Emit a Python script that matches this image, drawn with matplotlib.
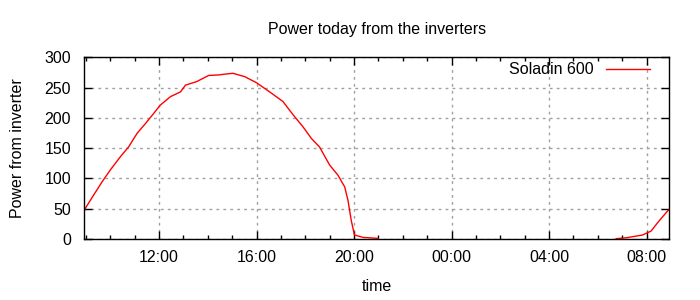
import pandas as pd
import matplotlib
matplotlib.use("Agg")
import matplotlib.pyplot as plt
import matplotlib.dates as mdates

plt.rcParams['font.family'] = ['Liberation Sans', 'DejaVu Sans']

# Power readings of the Soladin 600, day part (day 1)
day_times = ["08:57", "09:19", "09:40", "10:00", "10:25", "10:45", "11:06",
             "11:27", "11:47", "12:03", "12:28", "12:53", "13:05", "13:33",
             "14:02", "14:29", "14:39", "15:02", "15:31", "16:00", "16:32",
             "17:05", "17:30", "17:54", "18:15", "18:35", "19:00", "19:20",
             "19:37", "19:45", "19:53", "20:01", "20:22", "20:59"]
day_power = [49, 72.6, 94.6, 114, 136, 152, 174.5,
             191, 207.5, 221, 235, 243, 254, 260,
             270, 271, 272, 273.6, 268, 258, 243,
             227, 205, 185.5, 166, 152, 122, 105.7,
             86, 64, 31, 6.6, 2.7, 1]

# next morning
morning_times = ["06:45", "07:10", "07:50", "08:11", "08:31", "08:54"]
morning_power = [0.5, 2, 6.6, 13, 30, 48]

day1 = "2013-06-01 "
day2 = "2013-06-02 "
t_day = pd.to_datetime([day1 + t for t in day_times])
t_morning = pd.to_datetime([day2 + t for t in morning_times])

fs = 11.5
fig = plt.figure(figsize=(7, 3), dpi=100)
ax = fig.add_axes([84.3 / 700, 61 / 300, 585 / 700, 181.7 / 300])

ax.plot(t_day, day_power, color='red', lw=1, label='Soladin 600')
ax.plot(t_morning, morning_power, color='red', lw=1)

ax.set_xlim(pd.Timestamp(day1 + "08:56"), pd.Timestamp(day2 + "08:56"))
ax.set_ylim(0, 300)
ax.set_yticks(range(0, 301, 50))

ax.xaxis.set_major_locator(mdates.HourLocator(byhour=[0, 4, 8, 12, 16, 20]))
ax.xaxis.set_minor_locator(mdates.HourLocator())
ax.xaxis.set_major_formatter(mdates.DateFormatter('%H:%M'))

ax.grid(True, which='major', color='#a0a0a0', linestyle=(0, (2, 3)), lw=1)
ax.tick_params(which='both', direction='in', top=True, right=True,
               labelsize=fs, colors='black')
ax.tick_params(axis='y', pad=9.5)
ax.tick_params(axis='x', pad=8)
ax.tick_params(which='major', length=6, width=1)
ax.tick_params(which='minor', length=3, width=1)
for s in ax.spines.values():
    s.set_linewidth(1)

ax.set_title('Power today from the inverters', fontsize=fs, pad=17)
ax.set_xlabel('time', fontsize=fs, labelpad=10)
ax.set_ylabel('Power from inverter', fontsize=fs, labelpad=14)

ax.legend(loc='upper right', bbox_to_anchor=(0.978, 1.007), frameon=False,
          fontsize=fs, markerfirst=False, handlelength=2.75, borderaxespad=0)

fig.savefig('out.png', dpi=100)
